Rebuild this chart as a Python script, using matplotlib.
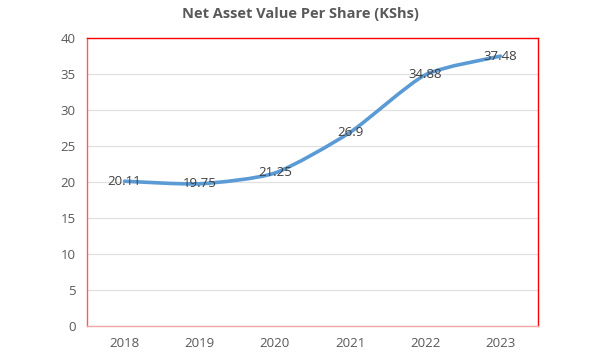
import matplotlib
matplotlib.use("Agg")
import matplotlib.pyplot as plt
from matplotlib.path import Path
from matplotlib.patches import PathPatch

years = ["2018", "2019", "2020", "2021", "2022", "2023"]
nav_per_share = [20.11, 19.75, 21.25, 26.9, 34.88, 37.48]
value_labels = ["20.11", "19.75", "21.25", "26.9", "34.88", "37.48"]

plt.rcParams["font.family"] = ["Open Sans", "DejaVu Sans"]

fig = plt.figure(figsize=(5.98, 3.6), dpi=100)
ax = fig.add_axes([87 / 598, 1 - 326 / 360, (538 - 87) / 598, (326 - 38) / 360])

xs = list(range(len(years)))
ys = nav_per_share

# smoothed line (Bezier handles between points, like Excel's "smoothed line")
verts = [(xs[0], ys[0])]
codes = [Path.MOVETO]
t = 0.11
for i in range(len(xs) - 1):
    p0 = (xs[max(i - 1, 0)], ys[max(i - 1, 0)])
    p1 = (xs[i], ys[i])
    p2 = (xs[i + 1], ys[i + 1])
    p3 = (xs[min(i + 2, len(xs) - 1)], ys[min(i + 2, len(xs) - 1)])
    c1 = (p1[0] + (p2[0] - p0[0]) * t, p1[1] + (p2[1] - p0[1]) * t)
    c2 = (p2[0] - (p3[0] - p1[0]) * t, p2[1] - (p3[1] - p1[1]) * t)
    verts += [c1, c2, p2]
    codes += [Path.CURVE4] * 3
ax.add_patch(PathPatch(Path(verts, codes), facecolor="none", edgecolor="#5b9bd5",
                       linewidth=2.6, capstyle="round", joinstyle="round", zorder=3))

for x, y, lab in zip(xs, ys, value_labels):
    ax.text(x, y, lab, ha="center", va="center", fontsize=9.5, color="#404040", zorder=4)

ax.set_xlim(-0.5, len(years) - 0.5)
ax.set_ylim(0, 40)
ax.set_yticks(range(0, 41, 5))
ax.set_xticks(xs)
ax.set_xticklabels(years)
ax.tick_params(length=0, labelsize=9.5, labelcolor="#595959", pad=8)
ax.grid(axis="y", color="#e0e0e0", linewidth=0.9, zorder=0)
ax.set_axisbelow(True)
for side in ax.spines.values():
    side.set_color("#ff0000")
    side.set_linewidth(1.0)
ax.spines["left"].set_color("#ff5a5a")
ax.spines["bottom"].set_color("#f4a6a6")

fig.text(300 / 598, 1 - 14 / 360, "Net Asset Value Per Share (KShs)", ha="center", va="center",
         fontsize=10.5, fontweight="bold", color="#595959")

fig.savefig("out.png", dpi=100)
